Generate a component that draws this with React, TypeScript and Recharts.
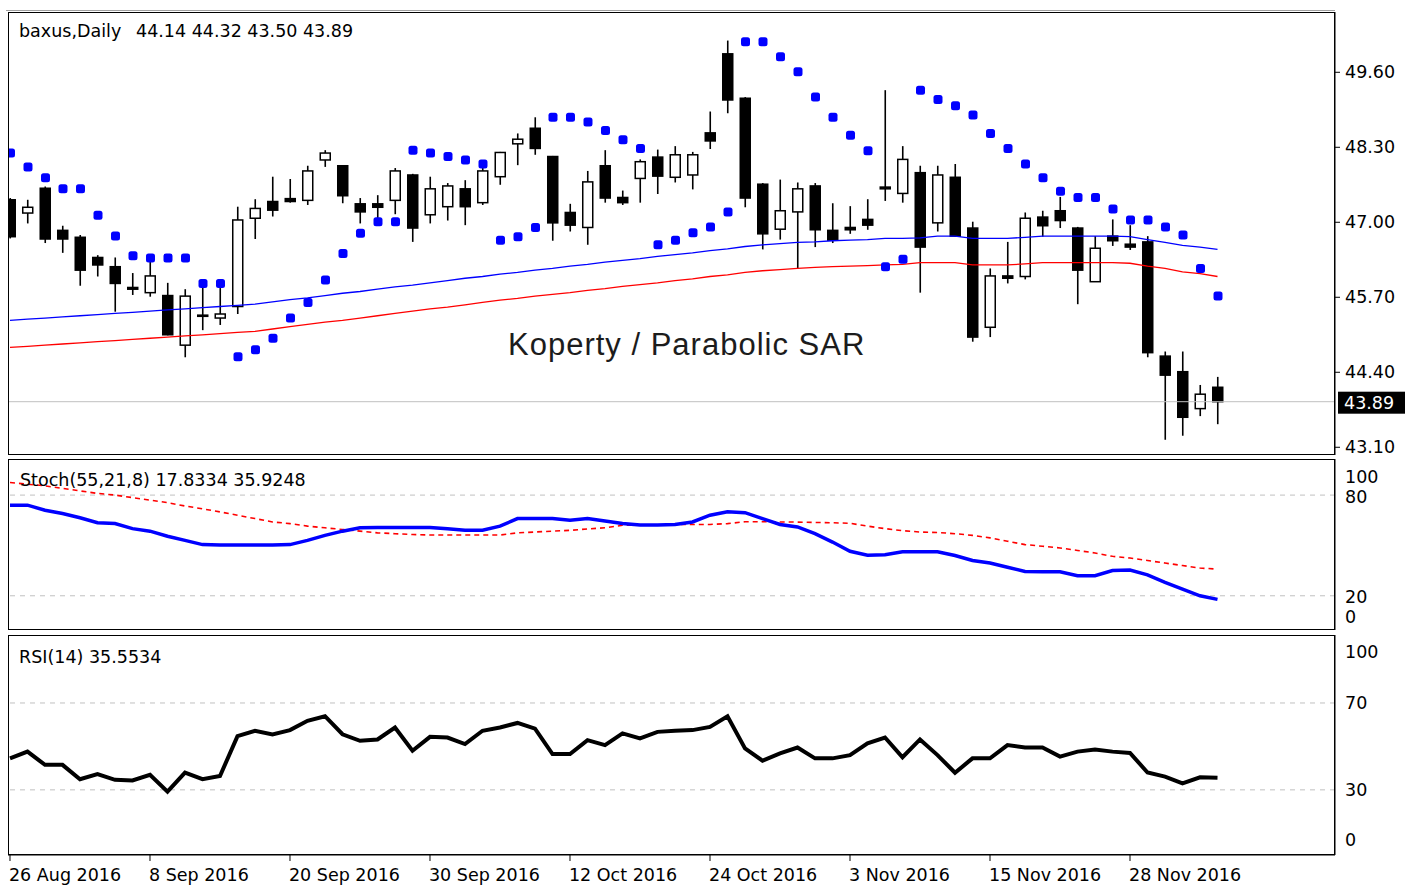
import React from 'react'
import { ComposedChart, Bar, Line, XAxis, YAxis, ReferenceLine } from 'recharts'

const FONT = "'DejaVu Sans', Verdana, sans-serif"

// bar index of each date label on the time axis
const tickBars = [0, 8, 16, 24, 32, 40, 48, 56, 64]
const tickLabels = [
  '26 Aug 2016', '8 Sep 2016', '20 Sep 2016', '30 Sep 2016', '12 Oct 2016',
  '24 Oct 2016', '3 Nov 2016', '15 Nov 2016', '28 Nov 2016',
]

const opens = [
  47.39, 47.16, 47.59, 46.86, 46.74, 46.39, 46.23, 45.87, 45.78, 45.73,
  44.87, 45.37, 45.34, 45.54, 47.07, 47.36, 47.41, 47.38, 48.08, 47.98,
  47.32, 47.32, 47.38, 47.82, 47.13, 47.27, 47.58, 47.34, 47.79, 48.36,
  48.63, 48.14, 47.17, 46.91, 47.98, 47.43, 47.76, 48.13, 47.78, 47.82,
  48.55, 49.92, 49.15, 47.66, 46.88, 47.18, 47.63, 46.86, 46.91, 47.05,
  47.61, 47.50, 47.86, 46.99, 47.78, 46.90, 45.18, 46.07, 46.06, 47.09,
  47.20, 46.90, 45.97, 46.76, 46.62, 46.66, 44.68, 44.41, 43.77, 44.14,
]
const highs = [
  47.42, 47.39, 47.62, 46.94, 46.78, 46.43, 46.39, 46.12, 46.39, 45.95,
  45.84, 45.95, 45.86, 47.27, 47.40, 47.79, 47.75, 47.98, 48.25, 47.98,
  47.42, 47.47, 47.94, 47.84, 47.79, 47.68, 47.73, 47.98, 48.22, 48.54,
  48.82, 48.15, 47.32, 47.89, 48.25, 47.55, 48.09, 48.26, 48.32, 48.22,
  48.92, 50.15, 49.17, 47.68, 47.74, 47.69, 47.68, 47.33, 47.28, 47.40,
  49.29, 48.32, 47.98, 47.98, 48.01, 47.01, 46.20, 46.66, 47.17, 47.20,
  47.44, 46.92, 46.76, 47.05, 46.95, 46.76, 44.76, 44.76, 44.18, 44.32,
]
const lows = [
  46.72, 46.98, 46.64, 46.47, 45.90, 46.06, 45.45, 45.74, 45.71, 45.04,
  44.66, 45.13, 45.22, 45.41, 46.71, 47.10, 47.34, 47.30, 47.96, 47.33,
  46.98, 47.01, 47.14, 46.66, 46.98, 47.03, 46.95, 47.30, 47.65, 47.99,
  48.17, 46.68, 46.84, 46.61, 47.34, 47.30, 47.34, 47.49, 47.69, 47.57,
  48.27, 48.89, 47.26, 46.53, 46.70, 46.20, 46.57, 46.64, 46.80, 46.87,
  47.37, 47.34, 45.78, 46.84, 46.75, 44.93, 45.01, 45.94, 46.01, 46.75,
  46.90, 45.58, 45.97, 46.59, 46.52, 44.66, 43.23, 43.30, 43.64, 43.50,
]
const closes = [
  46.75, 47.26, 46.71, 46.71, 46.17, 46.26, 45.94, 45.84, 46.07, 45.05,
  45.72, 45.39, 45.41, 47.04, 47.24, 47.21, 47.36, 47.89, 48.20, 47.46,
  47.18, 47.26, 47.89, 46.90, 47.58, 47.63, 47.27, 47.89, 48.21, 48.44,
  48.28, 46.99, 46.95, 47.70, 47.42, 47.34, 48.05, 47.80, 48.17, 48.17,
  48.41, 49.12, 47.42, 46.80, 47.20, 47.58, 46.87, 46.69, 46.87, 46.95,
  47.58, 48.09, 46.57, 47.82, 46.76, 45.01, 46.07, 46.03, 47.07, 46.94,
  47.03, 46.17, 46.55, 46.68, 46.57, 44.74, 44.35, 43.62, 44.02, 43.89,
]
const sar = [
  48.20, 47.96, 47.77, 47.58, 47.58, 47.12, 46.76, 46.42, 46.38, 46.38,
  46.38, 45.94, 45.94, 44.67, 44.79, 44.99, 45.34, 45.61, 46.00, 46.46,
  46.81, 47.01, 47.01, 48.25, 48.20, 48.14, 48.08, 48.01, 46.69, 46.75,
  46.91, 48.82, 48.82, 48.74, 48.59, 48.43, 48.28, 46.61, 46.69, 46.82,
  46.92, 47.18, 50.13, 50.13, 49.87, 49.61, 49.17, 48.82, 48.51, 48.24,
  46.23, 46.36, 49.29, 49.13, 49.02, 48.86, 48.54, 48.28, 48.01, 47.77,
  47.54, 47.43, 47.43, 47.23, 47.04, 47.04, 46.92, 46.78, 46.20, 45.72,
]
const maBlue = [
  45.30, 45.32, 45.34, 45.36, 45.38, 45.40, 45.42, 45.44, 45.46, 45.48,
  45.50, 45.52, 45.54, 45.56, 45.58, 45.62, 45.66, 45.69, 45.73, 45.77,
  45.80, 45.84, 45.88, 45.91, 45.95, 45.99, 46.03, 46.06, 46.10, 46.13,
  46.17, 46.20, 46.24, 46.27, 46.31, 46.34, 46.37, 46.41, 46.44, 46.47,
  46.51, 46.54, 46.58, 46.61, 46.63, 46.65, 46.66, 46.68, 46.69, 46.70,
  46.72, 46.72, 46.73, 46.76, 46.76, 46.72, 46.72, 46.72, 46.74, 46.76,
  46.76, 46.76, 46.76, 46.76, 46.75, 46.70, 46.65, 46.60, 46.57, 46.53,
]
const maRed = [
  44.83, 44.85, 44.87, 44.89, 44.91, 44.93, 44.95, 44.97, 44.99, 45.01,
  45.03, 45.05, 45.07, 45.09, 45.11, 45.15, 45.19, 45.23, 45.27, 45.30,
  45.34, 45.38, 45.42, 45.46, 45.50, 45.53, 45.57, 45.61, 45.65, 45.68,
  45.72, 45.75, 45.78, 45.82, 45.85, 45.89, 45.92, 45.95, 45.99, 46.02,
  46.06, 46.09, 46.13, 46.16, 46.18, 46.20, 46.22, 46.23, 46.24, 46.25,
  46.26, 46.27, 46.30, 46.30, 46.30, 46.26, 46.26, 46.26, 46.28, 46.30,
  46.30, 46.30, 46.30, 46.30, 46.29, 46.24, 46.20, 46.14, 46.11, 46.06,
]
const stochMain = [
  74.0, 74.0, 71.0, 69.0, 66.5, 63.5, 63.0, 60.0, 58.5, 55.5,
  53.0, 50.5, 50.2, 50.2, 50.2, 50.2, 50.5, 53.0, 56.0, 58.5,
  60.5, 60.7, 60.7, 60.7, 60.7, 60.0, 59.1, 59.1, 61.5, 66.0,
  66.1, 66.1, 65.0, 66.0, 64.5, 63.0, 62.1, 62.1, 62.5, 64.0,
  68.0, 70.1, 69.5, 66.0, 62.5, 61.0, 57.0, 52.0, 46.5, 44.2,
  44.5, 46.2, 46.2, 46.2, 44.0, 41.0, 39.5, 37.0, 34.5, 34.3,
  34.3, 32.0, 31.9, 35.0, 35.3, 32.5, 28.0, 24.0, 20.0, 17.83,
]
const stochSignal = [
  87.5, 86.5, 85.5, 84.0, 82.5, 81.0, 80.0, 78.5, 77.0, 75.5,
  73.5, 71.8, 70.0, 68.0, 66.0, 64.0, 63.0, 61.5, 60.5, 59.5,
  58.5, 57.5, 57.0, 56.5, 56.2, 56.2, 56.2, 56.2, 56.2, 57.5,
  58.0, 58.5, 59.0, 59.8, 60.5, 62.0, 62.2, 62.3, 62.4, 62.5,
  62.5, 63.0, 64.1, 64.1, 64.0, 63.9, 63.7, 63.5, 63.2, 61.5,
  60.0, 58.8, 58.0, 57.7, 57.0, 56.0, 54.5, 52.5, 50.5, 49.5,
  48.5, 47.0, 45.5, 43.5, 42.5, 41.0, 39.5, 38.0, 36.5, 35.92,
]
const rsi = [
  44.5, 47.6, 41.5, 41.5, 34.9, 37.3, 34.6, 34.3, 36.9, 29.2,
  37.9, 34.9, 36.4, 54.7, 57.2, 55.5, 57.5, 61.8, 63.9, 55.6,
  52.6, 53.2, 58.7, 48.0, 54.4, 54.1, 51.1, 57.2, 58.7, 60.8,
  58.2, 46.5, 46.5, 52.9, 50.6, 56.0, 53.7, 56.7, 57.2, 57.5,
  59.0, 63.9, 49.1, 43.4, 46.8, 49.5, 44.5, 44.5, 46.0, 51.4,
  54.1, 45.0, 53.2, 46.0, 37.9, 44.5, 44.5, 50.6, 49.5, 49.5,
  45.3, 47.6, 48.6, 47.6, 47.0, 38.0, 36.1, 33.0, 35.8, 35.55,
]

const rows = opens.map((o, i) => ({
  i,
  open: o,
  high: highs[i],
  low: lows[i],
  close: closes[i],
  range: [lows[i], highs[i]],
  sar: sar[i],
  maBlue: maBlue[i],
  maRed: maRed[i],
  stMain: stochMain[i],
  stSignal: stochSignal[i],
  rsi: rsi[i],
}))

const XDOM: [number, number] = [-0.114, 75.714]

const Candle = (props: any) => {
  const { x, y, width, height, payload } = props
  if (x == null || y == null) return null
  const top = Math.min(y, y + height)
  const bottom = Math.max(y, y + height)
  const span = payload.high - payload.low
  const yOf = (v: number) => (span === 0 ? top : top + ((payload.high - v) / span) * (bottom - top))
  const cx = x + width / 2
  const yo = yOf(payload.open)
  const yc = yOf(payload.close)
  const up = payload.close >= payload.open
  const bt = Math.min(yo, yc)
  const bh = Math.max(Math.abs(yo - yc), 1)
  return (
    <g>
      <line x1={cx} x2={cx} y1={top} y2={bottom} stroke="#000" strokeWidth={1.6} />
      <rect x={cx - 5} y={bt} width={10} height={bh} fill={up ? '#fff' : '#000'} stroke="#000" strokeWidth={1.5} />
    </g>
  )
}

const SarDot = (props: any) => {
  const { cx, cy } = props
  if (cx == null || cy == null) return null
  return <rect x={cx - 4} y={cy - 4.5} width={9} height={9} rx={2.5} fill="#0000ff" />
}

const PanelTick = (props: any) => {
  const { x, y, payload, offsets } = props
  const dy = offsets?.[payload.value] ?? 0
  return (
    <text x={x} y={y + dy} dy="0.355em" textAnchor="start" fill="#000" fontSize={17.5} fontFamily={FONT}>
      {payload.value}
    </text>
  )
}

const DateTick = (props: any) => {
  const { x, y, payload } = props
  const label = tickLabels[tickBars.indexOf(payload.value)]
  return (
    <g>
      <line x1={x} x2={x} y1={y} y2={y + 6} stroke="#000" strokeWidth={1} />
      <text x={x - 1} y={y + 26} textAnchor="start" fill="#000" fontSize={17.5} fontFamily={FONT}>
        {label}
      </text>
    </g>
  )
}

const priceLabel = (p: any) => {
  const vb = p.viewBox
  if (!vb) return null
  const right = vb.x + vb.width
  return (
    <g>
      <rect x={right + 3} y={vb.y - 10} width={67} height={22} fill="#000" />
      <text x={right + 9} y={vb.y + 1} dy="0.355em" fill="#fff" fontSize={17.5} fontFamily={FONT}>
        43.89
      </text>
    </g>
  )
}

export default function App() {
  return (
    <div style={{ position: 'absolute', left: 0, top: 0, width: 1422, height: 887, background: '#fff', overflow: 'hidden' }}>
      <div style={{ position: 'absolute', left: 0, top: 0 }}>
        <ComposedChart width={1422} height={460} data={rows} margin={{ top: 12, right: 0, bottom: 5, left: 8 }}>
          <XAxis dataKey="i" type="number" domain={XDOM} allowDataOverflow hide />
          <YAxis
            orientation="right"
            type="number"
            domain={[42.966, 50.645]}
            allowDataOverflow
            ticks={[43.1, 44.4, 45.7, 47.0, 48.3, 49.6]}
            interval={0}
            width={87}
            tickFormatter={(v: number) => v.toFixed(2)}
            tick={{ fill: '#000', fontSize: 17.5, fontFamily: FONT }}
            axisLine={{ stroke: '#000' }}
            tickLine={{ stroke: '#000' }}
            tickSize={5}
            tickMargin={5}
          />
          <ReferenceLine y={43.89} stroke="#c0c0c0" strokeWidth={1} label={priceLabel} />
          <Line dataKey="maRed" stroke="#ff0000" strokeWidth={1.3} dot={false} activeDot={false} isAnimationActive={false} />
          <Line dataKey="maBlue" stroke="#0000ff" strokeWidth={1.3} dot={false} activeDot={false} isAnimationActive={false} />
          <Bar dataKey="range" barSize={10} shape={<Candle />} isAnimationActive={false} />
          <Line dataKey="sar" stroke="none" dot={<SarDot />} activeDot={false} isAnimationActive={false} />
        </ComposedChart>
      </div>

      <div style={{ position: 'absolute', left: 0, top: 455 }}>
        <ComposedChart width={1422} height={180} data={rows} margin={{ top: 4, right: 0, bottom: 5, left: 8 }}>
          <XAxis dataKey="i" type="number" domain={XDOM} allowDataOverflow hide />
          <YAxis
            orientation="right"
            type="number"
            domain={[-0.4, 101.5]}
            allowDataOverflow
            ticks={[0, 20, 80, 100]}
            interval={0}
            width={87}
            tick={<PanelTick offsets={{ 100: 15.5, 80: 2, 20: 1, 0: -12.5 }} />}
            axisLine={{ stroke: '#000' }}
            tickLine={false}
            tickSize={5}
            tickMargin={5}
          />
          <ReferenceLine y={80} stroke="#c0c0c0" strokeDasharray="5 5" />
          <ReferenceLine y={20} stroke="#c0c0c0" strokeDasharray="5 5" />
          <Line dataKey="stSignal" stroke="#ff0000" strokeWidth={1.6} strokeDasharray="5 4" dot={false} activeDot={false} isAnimationActive={false} />
          <Line dataKey="stMain" stroke="#0000ff" strokeWidth={3.5} dot={false} activeDot={false} isAnimationActive={false} />
        </ComposedChart>
      </div>

      <div style={{ position: 'absolute', left: 0, top: 630 }}>
        <ComposedChart width={1422} height={257} data={rows} margin={{ top: 5, right: 0, bottom: 0, left: 8 }}>
          <XAxis
            dataKey="i"
            type="number"
            domain={XDOM}
            allowDataOverflow
            ticks={tickBars}
            interval={0}
            height={32}
            axisLine={{ stroke: '#000' }}
            tickLine={false}
            tickSize={0}
            tickMargin={0}
            tick={<DateTick />}
          />
          <YAxis
            orientation="right"
            type="number"
            domain={[0, 101.3]}
            allowDataOverflow
            ticks={[0, 30, 70, 100]}
            interval={0}
            width={87}
            tick={<PanelTick offsets={{ 100: 14, 70: 0, 30: 0, 0: -15 }} />}
            axisLine={{ stroke: '#000' }}
            tickLine={false}
            tickSize={5}
            tickMargin={5}
          />
          <ReferenceLine y={70} stroke="#c0c0c0" strokeDasharray="5 5" />
          <ReferenceLine y={30} stroke="#c0c0c0" strokeDasharray="5 5" />
          <Line dataKey="rsi" stroke="#000" strokeWidth={4} dot={false} activeDot={false} isAnimationActive={false} />
        </ComposedChart>
      </div>

      <svg width={1422} height={887} style={{ position: 'absolute', left: 0, top: 0, pointerEvents: 'none' }}>
        <line x1={6} x2={1335} y1={10.5} y2={10.5} stroke="#a0a0a0" />
        <rect x={8.5} y={12.5} width={1326} height={442} fill="none" stroke="#000" />
        <rect x={8.5} y={459.5} width={1326} height={170} fill="none" stroke="#000" />
        <rect x={8.5} y={635.5} width={1326} height={219} fill="none" stroke="#000" />
        <text x={19} y={37} fontSize={17.5} fontFamily={FONT} fill="#000">baxus,Daily</text>
        <text x={136} y={37} fontSize={17.5} fontFamily={FONT} fill="#000">44.14 44.32 43.50 43.89</text>
        <text x={20} y={486} fontSize={17.5} fontFamily={FONT} fill="#000">Stoch(55,21,8) 17.8334 35.9248</text>
        <text x={19} y={663} fontSize={17.5} fontFamily={FONT} fill="#000">RSI(14) 35.5534</text>
        <text x={508} y={355} fontSize={31} letterSpacing={1} fontFamily="'Liberation Sans', Arial, sans-serif" fill="#1c1c1c">
          Koperty / Parabolic SAR
        </text>
      </svg>
    </div>
  )
}
